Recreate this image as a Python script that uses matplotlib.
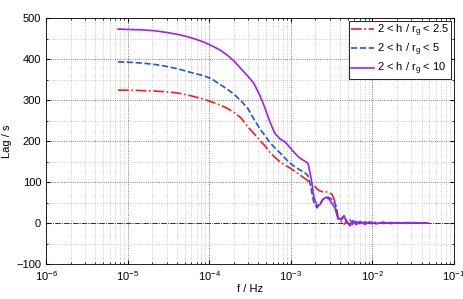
"""
Lag spectrum versus frequency for three h / r_g ranges
"""

import numpy as np
import matplotlib
matplotlib.use('Agg')
import matplotlib.pyplot as plt
from matplotlib.ticker import MultipleLocator, LogLocator, NullFormatter

#---------------------------------------------------------------------------------------------------
# Input Parameters
#---------------------------------------------------------------------------------------------------

# Frequencies (log10 Hz)
log_freq = [-5.118, -4.971, -4.824, -4.676, -4.529, -4.382, -4.260, -4.162, -4.064, -3.966,
            -3.868, -3.782, -3.696, -3.610, -3.525, -3.451, -3.377, -3.316, -3.255, -3.194,
            -3.132, -3.071, -3.010, -2.949, -2.887, -2.838, -2.789, -2.752, -2.716, -2.679,
            -2.642, -2.605, -2.569, -2.532, -2.495, -2.458, -2.422, -2.385, -2.348, -2.311,
            -2.275, -2.238, -2.201, -2.152, -2.091, -2.029, -1.956, -1.870, -1.784, -1.686,
            -1.588, -1.490, -1.404, -1.319]

# Lags (s)
lag_25 = [324, 324, 323, 322, 320, 317, 312, 307, 302, 295,
          288, 280, 270, 256, 234, 218, 201, 188, 172, 160,
          149, 141, 134, 126, 117, 110, 103, 98, 92, 83,
          78, 76, 76, 74, 70, 52, 14, 4, -3, 4,
          -5, 3, -3, 2, -2, 2, -1, 1, -1, 0,
          1, 0, 0, 0]
lag_5 = [393, 392, 390, 387, 382, 376, 369, 364, 359, 351,
         338, 327, 314, 298, 279, 253, 229, 213, 196, 183,
         171, 158, 146, 137, 129, 125, 115, 85, 48, 37,
         48, 58, 63, 62, 57, 48, 14, 8, 15, 0,
         8, -4, 4, -3, 3, -2, 2, -1, 1, 0,
         1, 0, 0, 0]
lag_10 = [473, 472, 471, 469, 465, 460, 454, 448, 441, 432,
          422, 410, 395, 376, 358, 340, 310, 280, 246, 218,
          205, 198, 184, 170, 158, 152, 146, 110, 62, 42,
          45, 58, 63, 58, 48, 36, 10, 10, 18, 2,
          -7, 6, -4, 4, -3, 3, -2, 2, -1, 1,
          -1, 1, 0, 0]

labels = ['2 < h / r$_\\mathrm{g}$ < 2.5',
          '2 < h / r$_\\mathrm{g}$ < 5',
          '2 < h / r$_\\mathrm{g}$ < 10']

out_fname = 'out.png'

#---------------------------------------------------------------------------------------------------
# Main Program
#---------------------------------------------------------------------------------------------------

plt.rcParams['font.family'] = ['Liberation Sans', 'DejaVu Sans']
plt.rcParams['mathtext.fontset'] = 'custom'
plt.rcParams['mathtext.rm'] = 'Liberation Sans'
plt.rcParams['mathtext.it'] = 'Liberation Sans:italic'

freq = 10.0**np.array(log_freq)

fig = plt.figure(figsize=(4.63, 2.99), dpi=100)
ax = fig.add_axes([0.0994, 0.117, 0.8812, 0.8228])

ax.axhline(0, color='k', ls='-.', lw=0.6, zorder=1)
ax.semilogx(freq, lag_25, color='#ff1a1a', ls='-.', lw=1.2, label=labels[0], zorder=3)
ax.semilogx(freq, lag_5, color='#2050f0', ls='--', lw=1.2, label=labels[1], zorder=3)
ax.semilogx(freq, lag_10, color='#a020f0', ls='-', lw=1.2, label=labels[2], zorder=3)

ax.set_xlim(1e-6, 1e-1)
ax.set_ylim(-100, 500)
ax.yaxis.set_major_locator(MultipleLocator(100))
ax.yaxis.set_minor_locator(MultipleLocator(50))
ax.xaxis.set_major_locator(LogLocator(base=10, numticks=10))
ax.xaxis.set_minor_locator(LogLocator(base=10, subs=np.arange(2, 10), numticks=20))
ax.xaxis.set_minor_formatter(NullFormatter())

ax.grid(which='major', ls=':', color='#555555', lw=0.6)
ax.grid(which='minor', ls=':', color='#c0c0c0', lw=0.6)
ax.tick_params(which='both', direction='in', top=True, right=True, labelsize=8)
ax.tick_params(which='major', length=3)
ax.tick_params(which='minor', length=1.5)
for s in ax.spines.values():
    s.set_linewidth(0.6)

ax.set_xlabel('f / Hz', size=8, labelpad=1)
ax.set_ylabel('Lag / s', size=8)
ax.yaxis.set_label_coords(-0.083, 0.5)

leg = ax.legend(loc='upper right', fontsize=8, handlelength=2.1, handletextpad=0.3,
                borderaxespad=0.25, borderpad=0.15, labelspacing=0.25, fancybox=False,
                framealpha=1, edgecolor='k')
leg.get_frame().set_linewidth(0.6)

plt.savefig(out_fname, dpi=100)
plt.close()
